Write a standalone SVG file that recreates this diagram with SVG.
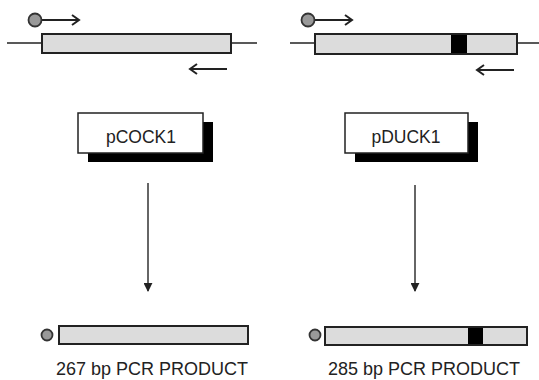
<svg xmlns="http://www.w3.org/2000/svg" width="539" height="380" viewBox="0 0 539 380">
<defs>
<style>
.dna{stroke:#222;stroke-width:1.5;fill:none}
.gene{fill:#dcdcdc;stroke:#222;stroke-width:2}
.blk{fill:#000}
.prim{fill:#999;stroke:#333;stroke-width:1.8}
.pl{stroke:#222;stroke-width:2;fill:none}
.lbl{font-family:"Liberation Sans",Arial,sans-serif;fill:#222}
.node{fill:#fff;stroke:#222;stroke-width:1.5}
.conn{stroke:#333;stroke-width:1.5;fill:none}
</style>
<marker id="ah" viewBox="0 0 10 10" refX="9" refY="5" markerWidth="9" markerHeight="9" markerUnits="userSpaceOnUse" orient="auto"><path d="M0,0 L10,5 L0,10 Z" fill="#222"/></marker>
</defs>

<g id="template-cock">
<line class="dna" x1="7" y1="43" x2="42" y2="43"/>
<line class="dna" x1="231" y1="43" x2="257" y2="43"/>
<rect class="gene" x="42" y="34" width="189" height="19"/>
<line class="pl" x1="41" y1="20" x2="79" y2="20"/>
<path class="pl" d="M72,15 L79,20 L72,25"/>
<circle class="prim" cx="35" cy="20" r="6.5"/>
<line class="pl" x1="190" y1="69" x2="227" y2="69"/>
<path class="pl" d="M197,64 L190,69 L197,74"/>
</g>

<g id="template-duck">
<line class="dna" x1="290" y1="43" x2="315" y2="43"/>
<line class="dna" x1="517" y1="43" x2="539" y2="43"/>
<rect class="gene" x="315" y="34" width="202" height="20"/>
<rect class="blk" x="451" y="35" width="16" height="18"/>
<line class="pl" x1="314" y1="20" x2="352" y2="20"/>
<path class="pl" d="M345,15 L352,20 L345,25"/>
<circle class="prim" cx="308" cy="20" r="6.5"/>
<line class="pl" x1="477" y1="70" x2="514" y2="70"/>
<path class="pl" d="M484,65 L477,70 L484,75"/>
</g>

<g id="pCOCK1">
<rect x="88" y="122" width="125" height="40" fill="#000"/>
<rect class="node" x="78" y="113" width="125" height="40"/>
<text class="lbl" x="141" y="143" font-size="17.5" text-anchor="middle">pCOCK1</text>
</g>

<g id="pDUCK1">
<rect x="355" y="122" width="123" height="40" fill="#000"/>
<rect class="node" x="345" y="113" width="123" height="40"/>
<text class="lbl" x="406" y="143" font-size="17.5" text-anchor="middle">pDUCK1</text>
</g>

<g id="connectors">
<line class="conn" x1="148" y1="183" x2="148" y2="291" marker-end="url(#ah)"/>
<line class="conn" x1="415" y1="185" x2="415" y2="291" marker-end="url(#ah)"/>
</g>

<g id="product-cock">
<circle class="prim" cx="47" cy="335" r="5.5"/>
<rect class="gene" x="59" y="326" width="189" height="18"/>
<text class="lbl" x="152" y="375" font-size="18" text-anchor="middle">267 bp PCR PRODUCT</text>
</g>

<g id="product-duck">
<circle class="prim" cx="315" cy="335" r="5.5"/>
<rect class="gene" x="325" y="327" width="202" height="18"/>
<rect class="blk" x="468" y="328" width="15" height="16"/>
<text class="lbl" x="424" y="375" font-size="18" text-anchor="middle">285 bp PCR PRODUCT</text>
</g>
</svg>
